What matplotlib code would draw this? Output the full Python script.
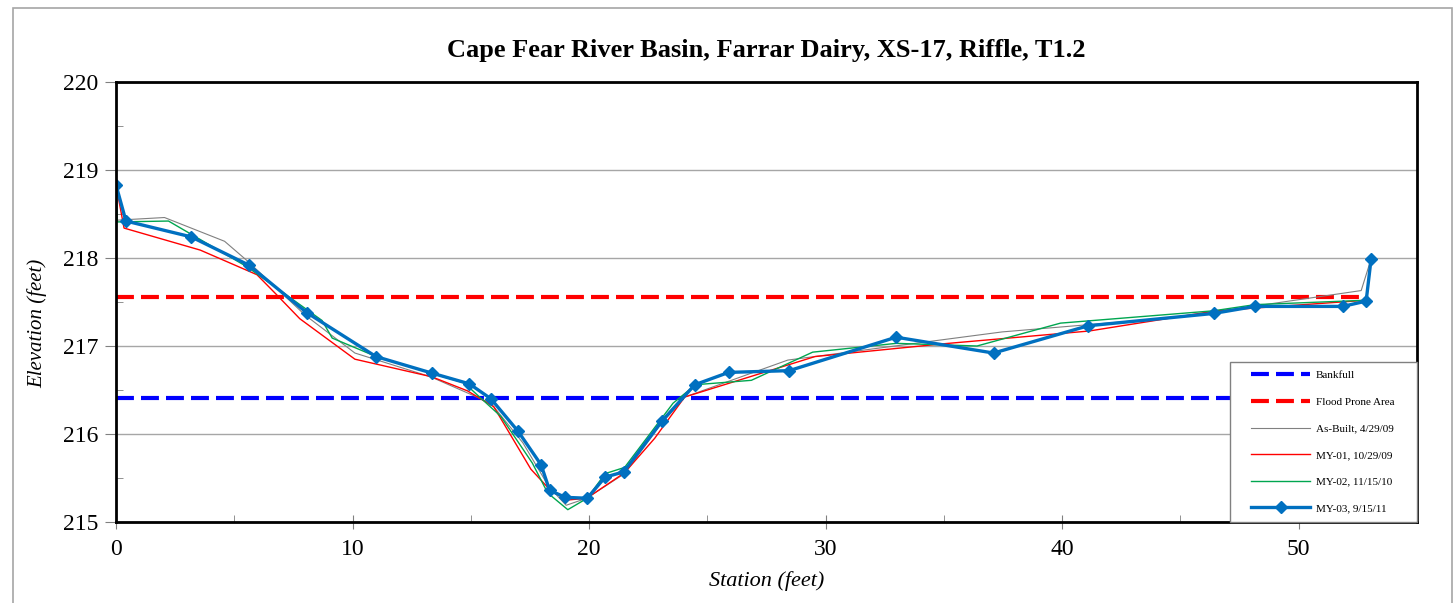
import matplotlib
matplotlib.use("Agg")
import matplotlib.pyplot as plt
from matplotlib.legend_handler import HandlerLine2D
from matplotlib.lines import Line2D
from matplotlib.patches import Rectangle
from matplotlib.ticker import MultipleLocator

plt.rcParams["font.family"] = ["Liberation Serif", "DejaVu Serif"]

# survey data (station ft, elevation ft)
asbuilt_x = [0, 0.06, 2.05, 4.59, 5.54, 8.0, 10.1, 13.3, 15.85, 17.2, 18.3, 19.03,
             19.9, 21.5, 23.0, 24.04, 28.4, 37.46, 45.0, 52.64, 53.06]
asbuilt_y = [218.83, 218.43, 218.46, 218.19, 217.97, 217.35, 216.92, 216.65, 216.35,
             215.9, 215.4, 215.19, 215.27, 215.55, 216.1, 216.42, 216.84, 217.16,
             217.33, 217.63, 217.99]

my01_x = [0, 0.34, 3.56, 5.96, 6.8, 7.77, 10.1, 13.35, 14.86, 15.97, 17.54, 18.4,
          19.1, 19.9, 21.06, 21.5, 22.77, 24.04, 29.55, 34.77, 41.13, 46.5, 52.85, 53.06]
my01_y = [218.83, 218.34, 218.09, 217.81, 217.58, 217.31, 216.85, 216.65, 216.49,
          216.31, 215.60, 215.35, 215.25, 215.27, 215.48, 215.56, 215.95, 216.42,
          216.88, 217.02, 217.17, 217.40, 217.52, 217.98]

my02_x = [0, 0.06, 2.22, 5.54, 8.71, 9.14, 11.0, 14.72, 16.27, 17.6, 18.25, 19.1,
          19.92, 20.68, 21.5, 23.55, 24.5, 26.86, 29.45, 32.98, 36.4, 39.93, 46.4,
          48.15, 52.85, 53.06]
my02_y = [218.83, 218.41, 218.42, 217.90, 217.29, 217.09, 216.88, 216.58, 216.20,
          215.67, 215.33, 215.14, 215.27, 215.55, 215.62, 216.35, 216.56, 216.61,
          216.93, 217.03, 217.0, 217.26, 217.40, 217.47, 217.52, 217.98]

my03_x = [0, 0.42, 3.18, 5.61, 8.06, 10.99, 13.38, 14.94, 15.85, 17.0, 17.97, 18.33,
          19.0, 19.92, 20.68, 21.47, 23.09, 24.47, 25.9, 28.46, 32.98, 37.1, 41.1,
          46.4, 48.15, 51.86, 52.85, 53.06]
my03_y = [218.83, 218.42, 218.24, 217.92, 217.38, 216.88, 216.69, 216.57, 216.40,
          216.03, 215.65, 215.36, 215.28, 215.27, 215.51, 215.57, 216.15, 216.56,
          216.70, 216.72, 217.10, 216.92, 217.23, 217.37, 217.45, 217.45, 217.51,
          217.99]

level_x = [0, 52.9]
bankfull = 216.41
flood_prone = 217.56

fig = plt.figure(figsize=(14.56, 6.03), dpi=100)
ax = fig.add_axes([116 / 1456, 1 - 522 / 603, (1417 - 116) / 1456, (522 - 82) / 603])

# outer chart border
fig.patches.append(Rectangle((13 / 1456, -0.01), (1452 - 13) / 1456, 1 - 8 / 603 + 0.01,
                             transform=fig.transFigure, fill=False,
                             edgecolor="#A6A6A6", linewidth=1.2))

dash = dict(linewidth=3, dashes=(4.3, 1.7))
ax.plot(level_x, [bankfull] * 2, color="#0000FF", label="Bankfull", **dash)
ax.plot(level_x, [flood_prone] * 2, color="#FF0000", label="Flood Prone Area", **dash)
ax.plot(asbuilt_x, asbuilt_y, color="#808080", linewidth=0.8, label="As-Built, 4/29/09")
ax.plot(my01_x, my01_y, color="#FF0000", linewidth=1.0, label="MY-01, 10/29/09")
ax.plot(my02_x, my02_y, color="#00A650", linewidth=1.0, label="MY-02, 11/15/10")
ax.plot(my03_x, my03_y, color="#0070C0", linewidth=2.4, marker="D", markersize=6,
        label="MY-03, 9/15/11")

ax.set_xlim(0, 55)
ax.set_ylim(215, 220)
ax.xaxis.set_major_locator(MultipleLocator(10))
ax.xaxis.set_minor_locator(MultipleLocator(5))
ax.yaxis.set_major_locator(MultipleLocator(1))
ax.yaxis.set_minor_locator(MultipleLocator(0.5))
ax.grid(axis="y", which="major", color="#A6A6A6", linewidth=1.0)
ax.set_axisbelow(True)

ax.tick_params(axis="x", which="major", direction="inout", length=10, color="#808080",
               labelsize=17, pad=7)
ax.tick_params(axis="x", which="minor", direction="in", length=5, color="#808080")
ax.tick_params(axis="y", which="major", direction="out", length=8, color="#808080",
               labelsize=17, pad=5)
ax.tick_params(axis="y", which="minor", direction="in", length=5, color="#808080")
for side in ax.spines.values():
    side.set_linewidth(2)
    side.set_color("black")

ax.set_title("Cape Fear River Basin, Farrar Dairy, XS-17, Riffle, T1.2",
             fontsize=19, fontweight="bold", pad=18)
ax.set_xlabel("Station (feet)", fontsize=16, style="italic", labelpad=8)
ax.set_ylabel("Elevation (feet)", fontsize=15, style="italic")
ax.yaxis.set_label_coords(-0.053, 0.452)

leg_x0 = (1230 - 116) / 1301
leg = ax.legend(loc="lower left", bbox_to_anchor=(leg_x0, 0, 1 - leg_x0, 0.3),
                mode="expand", fontsize=8, frameon=True, fancybox=False,
                framealpha=1, borderaxespad=0, handlelength=6.4, labelspacing=1.51,
                borderpad=0.8, handletextpad=0.55,
                handler_map={Line2D: HandlerLine2D(xpad=1.1)})
leg.get_frame().set_edgecolor("#808080")
leg.get_frame().set_linewidth(1.0)

fig.savefig("out.png", dpi=100)
